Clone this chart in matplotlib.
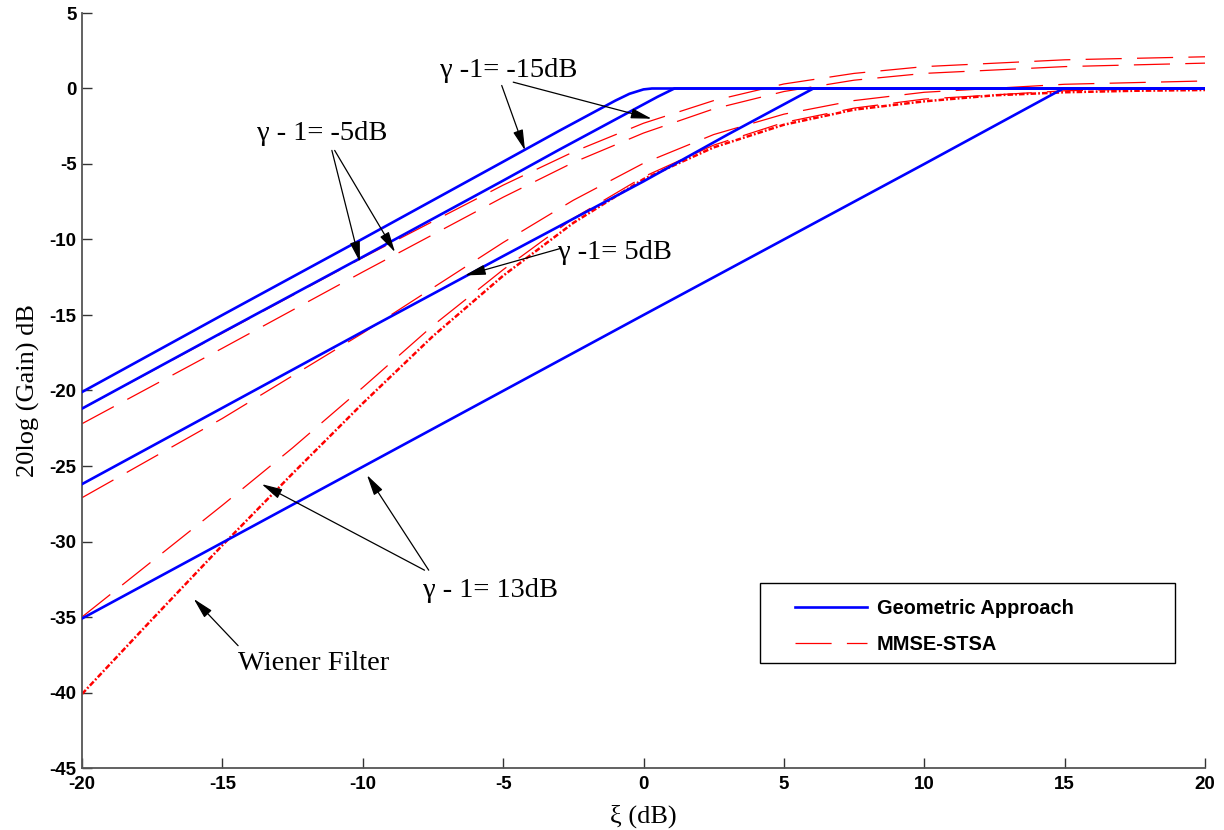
import matplotlib
matplotlib.use("Agg")
import matplotlib.pyplot as plt
from matplotlib.patches import Rectangle

# ---------------- data ----------------
# Geometric approach (blue solid), one curve per gamma-1 value
ga_m15_x = [-20, -15, -10, -5, -3, -2, -1.5, -1, -0.5, 0, 0.3, 20]
ga_m15_y = [-20.1, -15.0, -9.95, -4.85, -2.8, -1.8, -1.3, -0.8, -0.35, -0.06, 0, 0]
ga_m5_x = [-20, -15, -10, -5, -3, -2, -1, 0, 0.5, 1.1, 20]
ga_m5_y = [-21.2, -16.15, -11.15, -6.1, -4.05, -3.05, -2.05, -1.05, -0.55, 0, 0]
ga_p5_x = [-20, -15, -10, -5, 0, 3, 6.05, 20]
ga_p5_y = [-26.2, -21.15, -16.1, -11.1, -6.15, -3.05, 0, 0]
ga_p13_x = [-20, -10, 0, 10, 14.95, 20]
ga_p13_y = [-35.1, -25.05, -15.0, -5.0, 0, 0]

# MMSE-STSA (red dashed)
mmse_x = [-20, -15, -10, -5, -2.5, 0, 2.5, 5, 7.5, 10, 15, 20]
mmse_m15_y = [-21.2, -16.2, -11.2, -6.4, -4.2, -2.3, -0.8, 0.3, 1.0, 1.45, 1.9, 2.1]
mmse_m5_y = [-22.2, -17.2, -12.15, -7.2, -4.9, -2.95, -1.35, -0.2, 0.55, 1.0, 1.45, 1.68]
mmse_p5_y = [-27.1, -21.85, -16.2, -10.2, -7.4, -4.95, -3.05, -1.7, -0.8, -0.25, 0.28, 0.5]
mmse13_x = [-20, -17.5, -15, -12.5, -10, -7.5, -5, -2.5, 0, 2.5, 5, 7.5, 10, 15, 20]
mmse_p13_y = [-35.0, -31.3, -27.6, -23.8, -19.8, -15.7, -12.0, -8.6, -5.85, -3.75,
              -2.25, -1.3, -0.7, -0.15, 0.05]

# Wiener filter (red dash-dot)
wiener_x = [-20, -17.5, -15, -12.5, -10, -7.5, -5, -2.5, 0, 2.5, 5, 7.5, 10, 12.5, 15, 17.5, 20]
wiener_y = [-40.1, -35.15, -30.25, -25.5, -20.85, -16.4, -12.4, -8.9, -6.0, -3.9, -2.4,
            -1.4, -0.85, -0.45, -0.25, -0.15, -0.1]

x_ticks = [-20, -15, -10, -5, 0, 5, 10, 15, 20]
y_ticks = [-45, -40, -35, -30, -25, -20, -15, -10, -5, 0, 5]

legend_labels = ["Geometric Approach", "MMSE-STSA"]

# ---------------- plotting ----------------
plt.rcParams["lines.scale_dashes"] = False
plt.rcParams["axes.unicode_minus"] = False
fig = plt.figure(figsize=(12.24, 8.30), dpi=100)
ax = fig.add_axes([82 / 1224, 1 - 768 / 830, (1205 - 82) / 1224, (768 - 13) / 830])

blue = "#0000FF"
red = "#FF0000"
lw_b = 1.9
dash = (26, 11)

ga_lines = [(ga_m15_x, ga_m15_y), (ga_m5_x, ga_m5_y), (ga_p5_x, ga_p5_y), (ga_p13_x, ga_p13_y)]
for i, (xx, yy) in enumerate(ga_lines):
    ax.plot(xx, yy, color=blue, lw=lw_b, zorder=3,
            label=legend_labels[0] if i == 0 else None)

for i, (xx, yy) in enumerate([(mmse_x, mmse_m15_y), (mmse_x, mmse_m5_y),
                              (mmse_x, mmse_p5_y), (mmse13_x, mmse_p13_y)]):
    ax.plot(xx, yy, color=red, lw=0.9, dashes=dash, zorder=2,
            label=legend_labels[1] if i == 0 else None)

ax.plot(wiener_x, wiener_y, color=red, lw=1.8, dashes=(4, 1.5, 1.3, 1.5), zorder=2.5)

ax.set_xlim(-20, 20)
ax.set_ylim(-45, 5)
ax.set_xticks(x_ticks)
ax.set_yticks(y_ticks)
for s in ["top", "right"]:
    ax.spines[s].set_visible(False)
for s in ["left", "bottom"]:
    ax.spines[s].set_color("#555555")
    ax.spines[s].set_linewidth(1.3)
ax.tick_params(direction="in", length=7, width=1.0, color="#333333")
ax.tick_params(axis="y", pad=4)
ax.tick_params(axis="x", pad=6)
for lab in ax.get_xticklabels() + ax.get_yticklabels():
    lab.set_fontfamily("Liberation Sans")
    lab.set_fontweight("bold")
    lab.set_fontsize(13.5)

serif = "Liberation Serif"
ax.set_xlabel("ξ (dB)", fontfamily=serif, fontsize=19, labelpad=8)
ax.set_ylabel("20log (Gain) dB", fontfamily=serif, fontsize=19, labelpad=7)

ap = dict(arrowstyle="-|>,head_length=0.9,head_width=0.22", lw=0.9, color="k",
          shrinkA=0, shrinkB=0, mutation_scale=14)
fs_ann = 20.5

ax.text(-4.8, 1.2, "γ -1= -15dB", fontfamily=serif, fontsize=fs_ann, ha="center", va="center")
ax.annotate("", xy=(-4.22, -4.1), xytext=(-5.05, 0.2), arrowprops=ap)
ax.annotate("", xy=(0.29, -2.0), xytext=(-4.64, 0.42), arrowprops=ap)

ax.text(-11.45, -3.0, "γ - 1= -5dB", fontfamily=serif, fontsize=fs_ann, ha="center", va="center")
ax.annotate("", xy=(-10.1, -11.5), xytext=(-11.1, -4.1), arrowprops=ap)
ax.annotate("", xy=(-8.85, -10.84), xytext=(-11.0, -4.1), arrowprops=ap)

ax.text(-1.0, -10.85, "γ -1= 5dB", fontfamily=serif, fontsize=fs_ann, ha="center", va="center")
ax.annotate("", xy=(-6.36, -12.38), xytext=(-2.97, -10.6), arrowprops=ap)

ax.text(-5.45, -33.25, "γ - 1= 13dB", fontfamily=serif, fontsize=fs_ann, ha="center", va="center")
ax.annotate("", xy=(-13.6, -26.2), xytext=(-7.8, -31.9), arrowprops=ap)
ax.annotate("", xy=(-9.85, -25.6), xytext=(-7.65, -31.9), arrowprops=ap)

ax.text(-11.74, -38.1, "Wiener Filter", fontfamily=serif, fontsize=fs_ann, ha="center", va="center")
ax.annotate("", xy=(-16.02, -33.8), xytext=(-14.44, -36.9), arrowprops=ap)

# legend frame + entries
ax.add_patch(Rectangle((0.6037, 0.139), 0.3696, 0.106, transform=ax.transAxes,
                       facecolor="white", edgecolor="black", lw=1.0, zorder=4))
leg = ax.legend(loc="center left", bbox_to_anchor=(0.635, 0.188),
                borderaxespad=0, borderpad=0, frameon=False,
                handlelength=3.6, labelspacing=0.85, handletextpad=0.5,
                prop={"family": "Liberation Sans", "weight": "bold", "size": 14.4})
leg.set_zorder(5)

fig.savefig("out.png", dpi=100)
